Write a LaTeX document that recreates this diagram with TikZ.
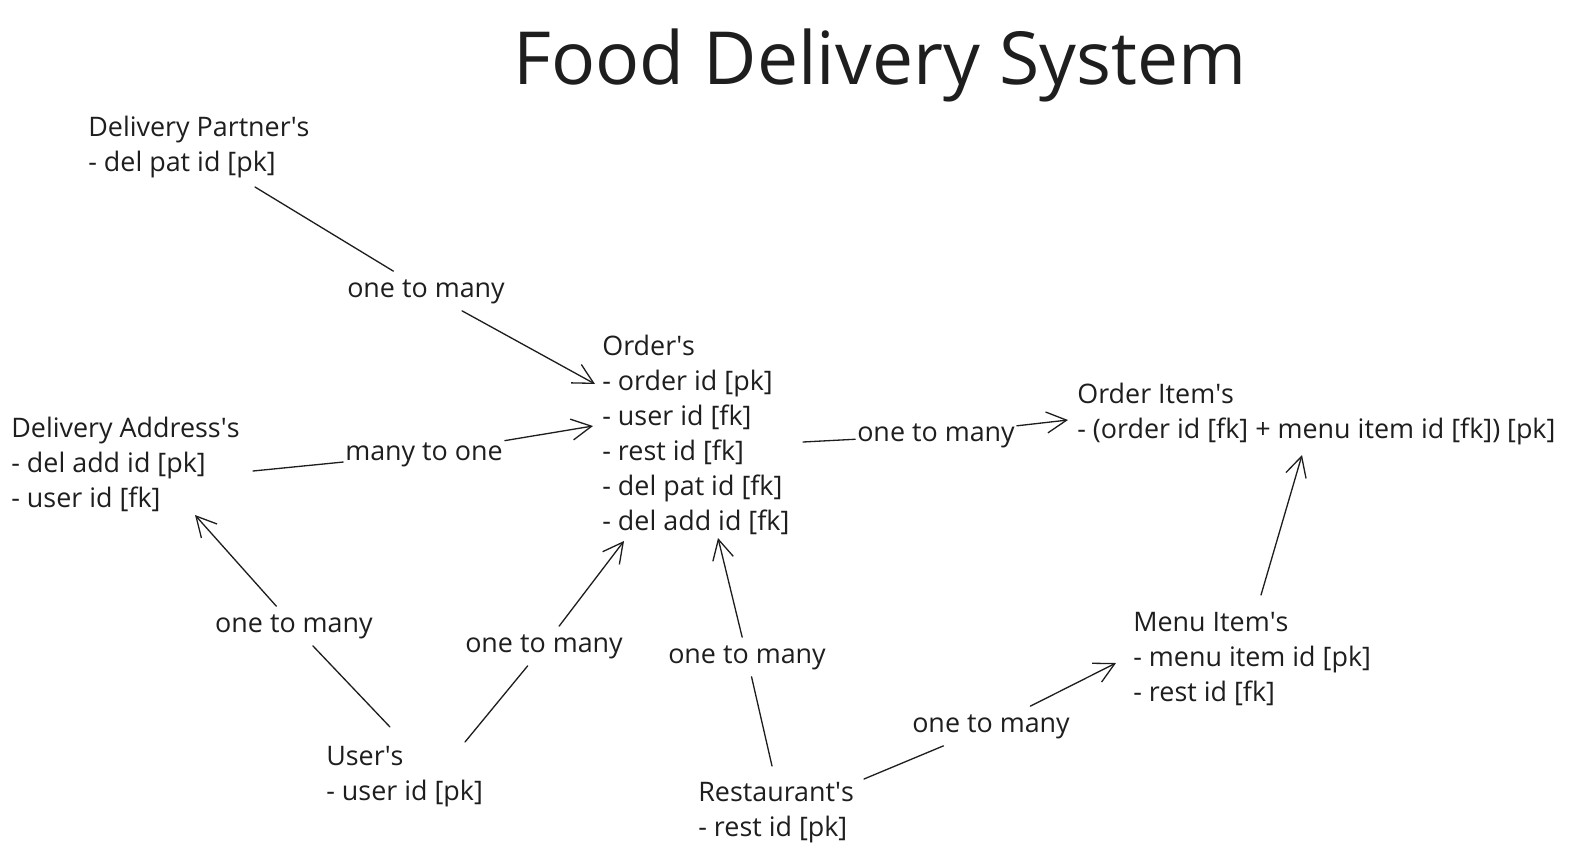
\documentclass[tikz,border=0pt]{standalone}
\usepackage{fontspec}
\setmainfont{Open Sans}
\usetikzlibrary{arrows.meta}
\usetikzlibrary{positioning}
\usepackage{xcolor}

\definecolor{ink}{HTML}{1E1E1E}
\newcommand{\ap}{\textquotesingle}

\tikzset{
  entity/.style={anchor=base west, align=left, inner sep=0pt, text=ink,
    font=\fontsize{15.3}{19.92}\selectfont},
  rel/.style={inner xsep=1pt, inner ysep=0.16cm, text height=0.36cm, text depth=0.1cm,
    text=ink, font=\fontsize{15.3}{19.92}\selectfont},
  link/.style={draw=ink, line width=0.75pt, line cap=round},
  tip/.style={-{Straight Barb[length=0.4cm, width=0.42cm, line join=miter]}}
}

\begin{document}
\begin{tikzpicture}[x=0.02cm, y=-0.02cm]
	\useasboundingbox (0,0) rectangle (1574,855);

	% 标题
	\node[anchor=base, text=ink, font=\fontsize{41.7}{50}\selectfont] (title) at (880,85) {Food Delivery System};

	% 表 (base = 最后一行)
	\node[entity] (partner) at (88,171) {Delivery Partner\ap s\\- del pat id [pk]};
	\node[entity] (orders) at (602,530) {Order\ap s\\- order id [pk]\\- user id [fk]\\- rest id [fk]\\- del pat id [fk]\\- del add id [fk]};
	\node[entity] (address) at (11,507) {Delivery Address\ap s\\- del add id [pk]\\- user id [fk]};
	\node[entity] (orderitem) at (1077,438) {Order Item\ap s\\- (order id [fk] + menu item id [fk]) [pk]};
	\node[entity] (menuitem) at (1133,701) {Menu Item\ap s\\- menu item id [pk]\\- rest id [fk]};
	\node[entity] (users) at (326,800) {User\ap s\\- user id [pk]};
	\node[entity] (rest) at (698,836) {Restaurant\ap s\\- rest id [pk]};

	% 端点
	\coordinate (dp1) at (255,187);
	\coordinate (or1) at (595,384);
	\coordinate (da1) at (253,471);
	\coordinate (or2) at (593,426);
	\coordinate (or3) at (803,442);
	\coordinate (oi1) at (1068,420);
	\coordinate (us1) at (390,727);
	\coordinate (da2) at (195,515);
	\coordinate (us2) at (465,742);
	\coordinate (or4) at (624,541);
	\coordinate (re1) at (772,766);
	\coordinate (or5) at (718,538);
	\coordinate (re2) at (864,779);
	\coordinate (mi1) at (1116,663);
	\coordinate (mi2) at (1261,595);
	\coordinate (oi2) at (1302,455);

	% 关系
	\node[rel] (r1) at (426,291) {one to many};
	\node[rel] (r2) at (424,454) {many to one};
	\node[rel] (r3) at (936,435) {one to many};
	\node[rel] (r4) at (294,626) {one to many};
	\node[rel] (r5) at (544,646) {one to many};
	\node[rel] (r6) at (747,657) {one to many};
	\node[rel] (r7) at (991,726) {one to many};

	\draw[link] (dp1) -- (r1);
	\draw[link, tip] (r1) -- (or1);
	\draw[link] (da1) -- (r2);
	\draw[link, tip] (r2) -- (or2);
	\draw[link] (or3) -- (r3);
	\draw[link, tip] (r3) -- (oi1);
	\draw[link] (us1) -- (r4);
	\draw[link, tip] (r4) -- (da2);
	\draw[link] (us2) -- (r5);
	\draw[link, tip] (r5) -- (or4);
	\draw[link] (re1) -- (r6);
	\draw[link, tip] (r6) -- (or5);
	\draw[link] (re2) -- (r7);
	\draw[link, tip] (r7) -- (mi1);
	\draw[link, tip] (mi2) -- (oi2);
\end{tikzpicture}
\end{document}
